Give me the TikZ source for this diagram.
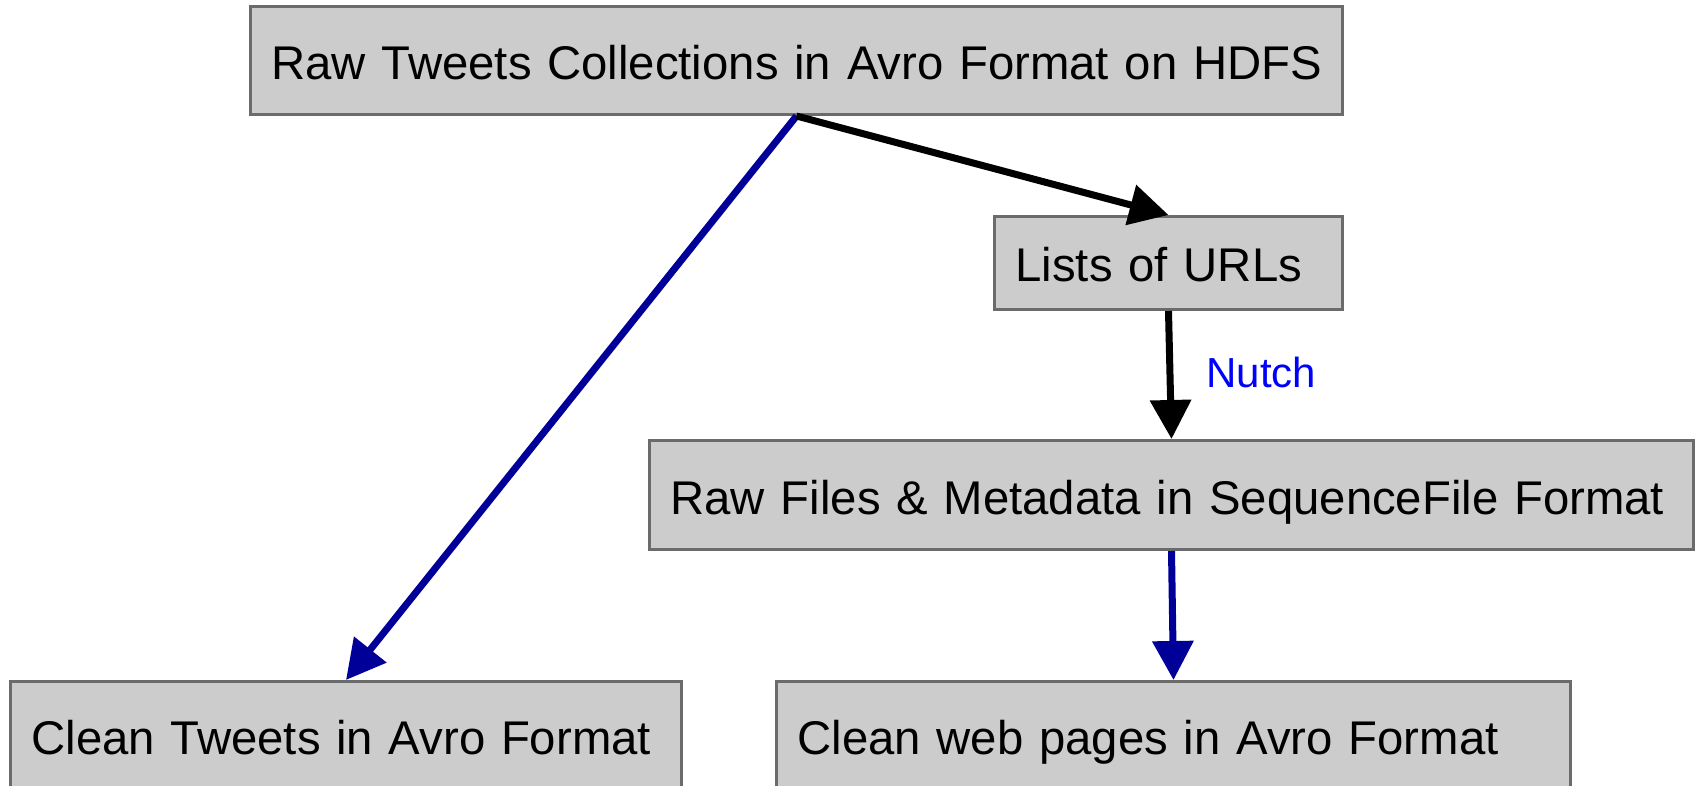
\documentclass[tikz,border=0pt]{standalone}
\usepackage{fontspec}
\setmainfont{Liberation Sans}
\usetikzlibrary{positioning, arrows.meta}

\definecolor{boxfill}{HTML}{CCCCCC}
\definecolor{boxline}{HTML}{6B6B6B}
\definecolor{flowblue}{HTML}{000099}
\definecolor{toolblue}{HTML}{0000FF}

\begin{document}
\begin{tikzpicture}
	[x=1pt, y=-1pt,
	 box/.style={draw=boxline, fill=boxfill, line width=3pt, anchor=north west,
	   inner xsep=21pt, inner ysep=0pt, align=left, text width=#1,
	   text height=42pt, text depth=4pt, font=\fontsize{47.3}{56}\selectfont},
	 flow/.style={line width=7pt, -{Triangle[length=39pt, width=40pt]}}]
   \useasboundingbox (0,0) rectangle (1700,786);
   \node[box=1050pt, minimum height=108pt] (raw_tweets) at (249,5) {\mbox{Raw Tweets Collections in Avro Format on HDFS}};
   \node[box=306pt, minimum height=93pt] (url_lists) at (993,215) {Lists of URLs};
   \node[box=1002pt, minimum height=109pt] (raw_files) at (648,439) {\mbox{Raw Files \& Metadata in SequenceFile Format}};
   \node[box=629pt, minimum height=108pt] (clean_tweets) at (9,680) {Clean Tweets in Avro Format};
   \node[box=752pt, minimum height=108pt] (clean_pages) at (775,680) {Clean web pages in Avro Format};
    \path[flow]
    (raw_tweets.south) edge [flowblue] (clean_tweets.north)
          edge [black] (url_lists.north)
    (url_lists.south)
          edge [black] node [right=33pt, yshift=3pt, inner sep=0pt, text=toolblue,
            font=\fontsize{42}{48}\selectfont] {Nutch} (raw_files.north)
    (raw_files.south)
          edge [flowblue] (clean_pages.north);
\end{tikzpicture}
\end{document}
